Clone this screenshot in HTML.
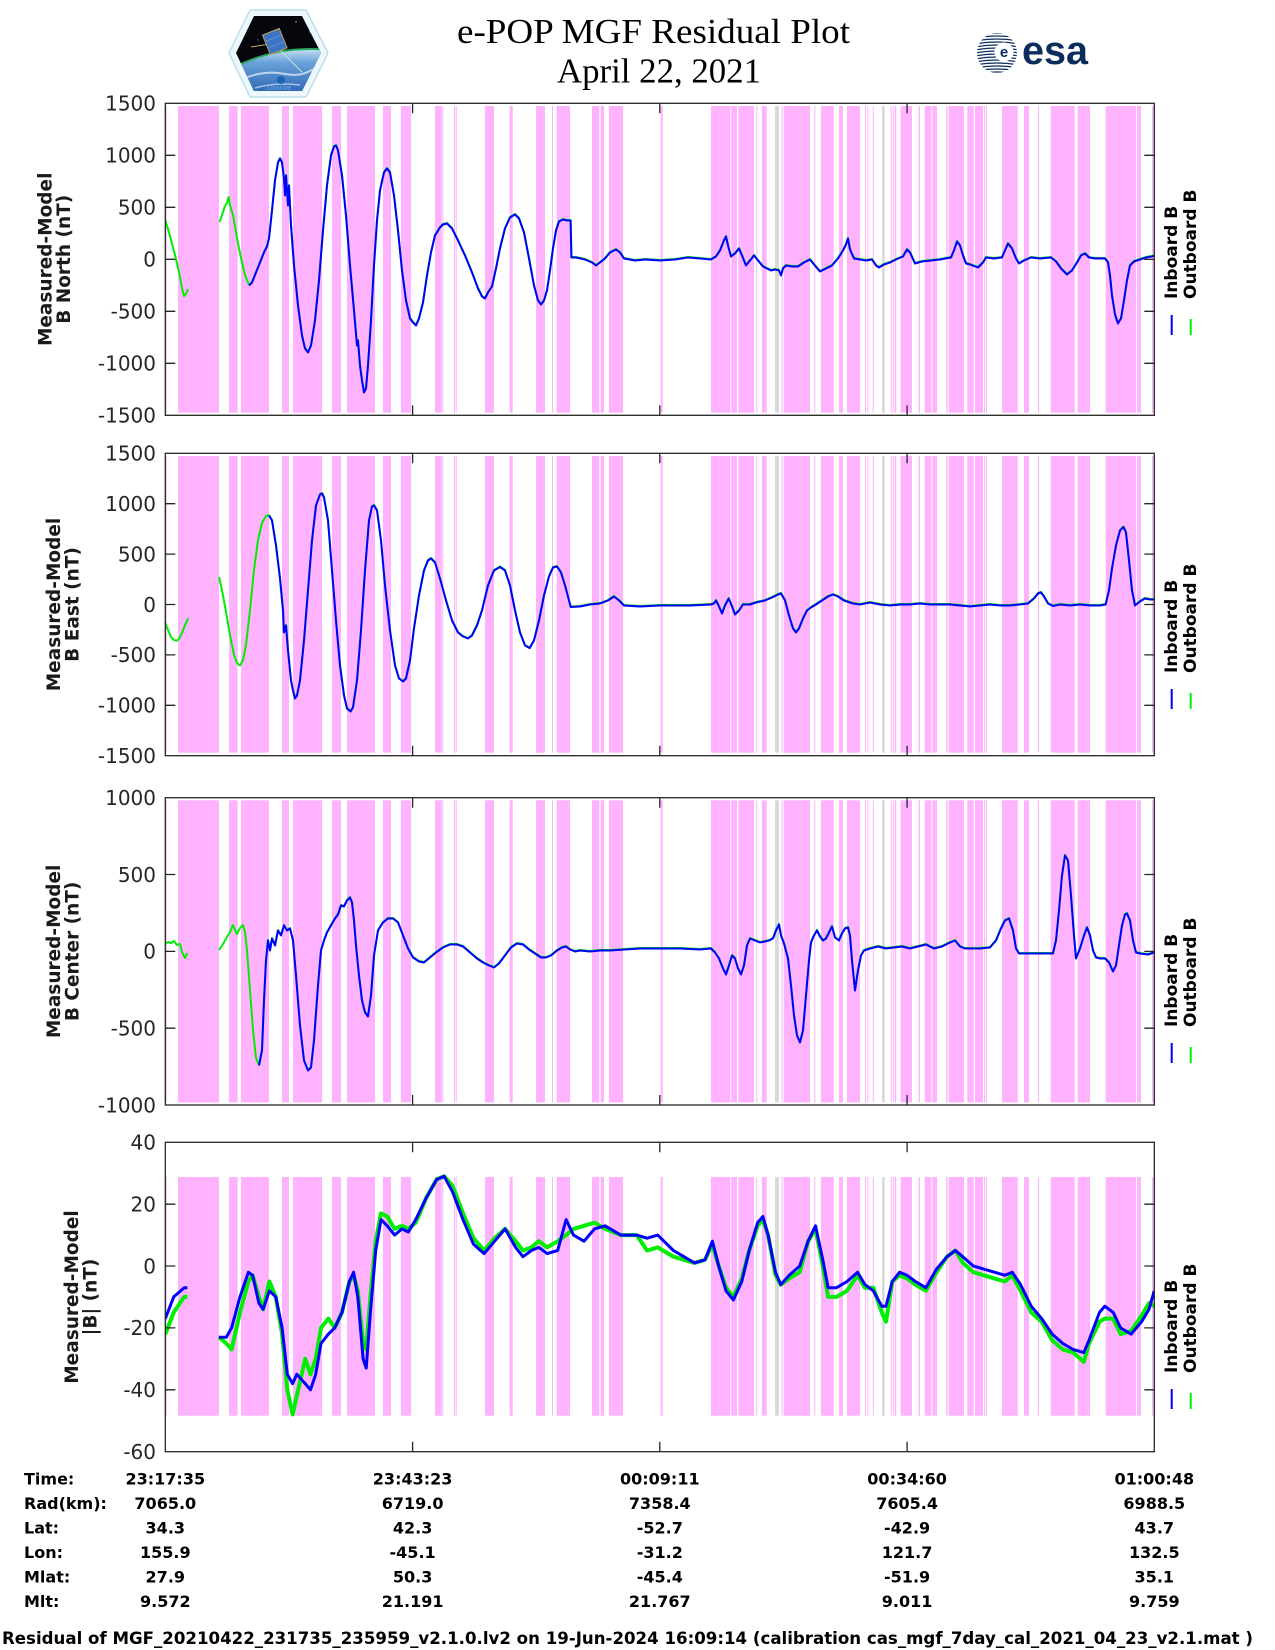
<!DOCTYPE html>
<html><head><meta charset="utf-8"><style>html,body{margin:0;padding:0;background:#fff}svg{display:block}</style></head><body>
<svg width="1275" height="1650" viewBox="0 0 1275 1650" xmlns="http://www.w3.org/2000/svg" xmlns:xlink="http://www.w3.org/1999/xlink">
<defs>
<g id="bars">
<g fill="#ffb3ff">
<rect x="165.3" width="1.4" y="0" height="1"/><rect x="178" width="41" y="0" height="1"/><rect x="229" width="8.7" y="0" height="1"/><rect x="241" width="28" y="0" height="1"/><rect x="282" width="7" y="0" height="1"/><rect x="293" width="29" y="0" height="1"/><rect x="332" width="9" y="0" height="1"/><rect x="347" width="28" y="0" height="1"/><rect x="383" width="8" y="0" height="1"/><rect x="401" width="10" y="0" height="1"/><rect x="435" width="6.7" y="0" height="1"/><rect x="442.3" width="1" y="0" height="1"/><rect x="454" width="1" y="0" height="1"/><rect x="455.7" width="1" y="0" height="1"/><rect x="485" width="9" y="0" height="1"/><rect x="509.7" width="3" y="0" height="1"/><rect x="536" width="9" y="0" height="1"/><rect x="552" width="1" y="0" height="1"/><rect x="556.7" width="13.3" y="0" height="1"/><rect x="592" width="7.3" y="0" height="1"/><rect x="600.7" width="3.3" y="0" height="1"/><rect x="609" width="14" y="0" height="1"/><rect x="660.7" width="2" y="0" height="1"/><rect x="711" width="19.3" y="0" height="1"/><rect x="731.3" width="5.7" y="0" height="1"/><rect x="738.3" width="15.7" y="0" height="1"/><rect x="756.3" width="1" y="0" height="1"/><rect x="762" width="4.7" y="0" height="1"/><rect x="781.7" width="1" y="0" height="1"/><rect x="783.7" width="26.3" y="0" height="1"/><rect x="814.3" width="1" y="0" height="1"/><rect x="821" width="12.7" y="0" height="1"/><rect x="839" width="4" y="0" height="1"/><rect x="847" width="13" y="0" height="1"/><rect x="865" width="1" y="0" height="1"/><rect x="867.3" width="1" y="0" height="1"/><rect x="872.7" width="1" y="0" height="1"/><rect x="890.7" width="1" y="0" height="1"/><rect x="892.7" width="1" y="0" height="1"/><rect x="894.7" width="1.6" y="0" height="1"/><rect x="900.7" width="11.3" y="0" height="1"/><rect x="918.7" width="1.3" y="0" height="1"/><rect x="924.7" width="6.6" y="0" height="1"/><rect x="932.3" width="4.7" y="0" height="1"/><rect x="946.3" width="1.4" y="0" height="1"/><rect x="948.7" width="15.3" y="0" height="1"/><rect x="967.3" width="6.4" y="0" height="1"/><rect x="975" width="8" y="0" height="1"/><rect x="984" width="1" y="0" height="1"/><rect x="986" width="1" y="0" height="1"/><rect x="1002" width="15.7" y="0" height="1"/><rect x="1024" width="5" y="0" height="1"/><rect x="1038" width="1" y="0" height="1"/><rect x="1050.7" width="24" y="0" height="1"/><rect x="1077.7" width="12.3" y="0" height="1"/><rect x="1105.7" width="30.3" y="0" height="1"/><rect x="1137" width="4" y="0" height="1"/><rect x="1152" width="1.3" y="0" height="1"/>
</g>
<g fill="#d9d9d9"><rect x="775" width="4" y="0" height="1"/><rect x="882" width="2.7" y="0" height="1"/></g>
</g>
<polyline id="p1b" points="249,285 252,282 256,272 260,262 264,252 267,246 269,238 272,210 275,180 278,162 280,158 282,162 284,178 285,195 286,175 288,205 289,185 291,225 294,265 298,305 302,335 305,348 308,352 311,345 315,320 319,280 323,230 327,185 331,155 334,146 336,145 338,150 342,175 346,215 350,265 354,310 357,345 358,340 360,365 362,380 364,392 366,388 368,365 371,320 374,265 377,220 380,190 384,172 387,168 390,172 394,195 398,230 402,270 406,300 410,318 413,322 416,325 419,318 423,302 427,275 431,252 435,235 440,227 443,224 447,223 452,228 458,240 465,255 472,272 478,288 482,296 485,298 488,292 492,286 496,268 500,248 505,228 510,217 515,214 519,218 524,232 529,258 534,285 538,300 541,304 544,300 547,290 550,270 553,248 556,230 559,221 563,219 567,220 570.6,220 571.4,257 576,257 585,259 592,262 596,265 600,262 605,258 610,252 616,249 620,252 624,258 635,260 645,259 660,260 675,259 688,257 700,258 711,259 716,256 720,250 724,240 726,236 728,245 731,256 735,253 739,248 742,255 746,265 750,260 754,255 758,260 763,266 767,268 771,270 775,269 779,270 781,275 783,268 786,265 792,266 798,266 804,262 810,259 814,264 820,271 826,268 832,265 838,258 843,250 846,244 848,238 850,249 854,258 860,259 866,260 872,259 876,265 879,267 884,264 890,262 896,259 903,256 907,249 910,252 915,263 922,261 931,260 940,259 951,257 954,250 957,241 960,245 963,255 966,263 970,264 978,267 983,262 986,257 994,258 1002,257 1005,250 1008,243 1012,248 1016,258 1019,263 1024,260 1031,257 1040,258 1051,257 1056,261 1061,268 1067,274 1072,270 1077,262 1081,255 1085,253 1089,257 1095,258 1105,258 1108,262 1110,275 1112,295 1115,314 1118,323 1121,318 1124,300 1127,280 1130,265 1134,261 1140,259 1146,257 1152,256 1154.3,255"/>
<polyline id="p2b" points="269,515 272,520 276,545 280,578 283,610 284,632 286,625 288,650 291,680 293,690 295,698 297,695 300,680 304,640 308,590 312,540 316,505 320,494 322,493 324,497 328,520 332,570 336,620 340,665 344,695 347,708 350.6,711 353,707 357,680 361,630 365,570 369,520 372,506 374,505 377,510 381,540 385,585 390,630 395,665 399,678 403,681 406,678 410,660 414,628 419,595 424,570 428,560 431,558 435,562 440,578 446,600 452,620 458,632 463,636 468,638 472,635 477,625 482,610 488,585 494,570 500,566.5 505,570 510,585 515,610 520,632 525,645 529.7,647.6 534,640 539,620 544,595 549,576 553,567 557,566 561,572 565,585 569,600 570.7,606.5 580,606 590,604 600,603 608,600 614,596 619,600 624,605 640,606 660,605 690,605 711,604 714,603 716,600 719,606 722,613 725,605 728.7,598 732,606 735,614 739,610 743,604 750,604 756,602 765,600 772,597 778,594 781,593 785,600 789,615 793,628 796,632 799,628 803,618 807,610 811,607 816,604 822,600 828,596 833,594 838,596 844,600 853,603 860,604 870,602 880,604 890,605 900,604 910,604 920,603 930,604 940,604 950,604 960,605 970,606 980,605 990,604 1000,605 1010,605 1020,604 1028,603 1034,598 1038,593 1041,592 1044,596 1048,603 1053,605.5 1060,604 1070,605 1080,604 1090,605 1100,605 1105.6,604 1109,590 1112,568 1116,545 1120,530 1123.5,526.5 1126,532 1129,560 1132,590 1135,605 1140,601 1145,598 1150,599 1154.3,599"/>
<polyline id="p3b" points="259,1065 262,1050 264,1000 266,960 268,940 270,950 272,938 275,945 278,930 281,935 284,925 287,930 290,928 293,940 296,975 300,1025 304,1060 308,1070 311,1067 314,1040 318,985 321,950 324,940 327,932 331,925 335,918 338,914 341,905 344,906 347,900 350,897 352,902 354,920 356,945 359,975 362,1000 365,1012 368,1016 371,995 374,955 378,930 383,922 388,918 393,918 398,922 403,935 408,948 413,957 419,961 424,962 430,957 436,952 443,947 450,944 457,944 463,946 470,952 477,958 483,962 489,965 494,967 499,963 505,955 511,947 517,943 523,944 529,949 535,953 541,957 546,957 551,955 557,950 562,947 566,946 570,949 575,951 580,950 590,951 600,950 610,950 625,949 640,948 660,948 680,948 700,949 711,948 715,952 719,958 723,968 726,974 729,965 732,955 735,958 738,968 741,974 744,965 747,945 750,938 755,940 760,942 765,941 769,940 773,938 776,930 779,924 781,935 784,943 788,958 791,985 794,1015 797,1035 800,1042 803,1030 806,995 809,960 811,942 814,935 817,930 820,936 823,940 826,938 829,932 832,926 835,937 839,940 842,933 845,928 848,927 850,935 852,960 855,990 858,970 861,955 864,950 870,948 878,946 886,948 894,947 902,946 910,948 918,946 926,944 934,948 942,946 950,942 955,940 960,946 965,948 972,948 980,948 990,947 996,940 1001,928 1005,920 1009,918 1013,930 1016,948 1019,953 1026,953 1036,953 1046,953 1053,953 1056,940 1059,910 1062,875 1065,855 1068,860 1071,895 1074,935 1076,958 1080,948 1084,935 1087,927 1090,935 1093,950 1096,957 1100,958 1105,958 1109,962 1113,971 1116,965 1119,945 1122,925 1125,914 1127,913 1130,920 1133,940 1136,952 1140,953 1148,954 1154.3,952"/>
<clipPath id="c1"><rect x="165.3" y="103.3" width="989" height="312"/></clipPath>
<clipPath id="c2"><rect x="165.3" y="453.3" width="989" height="302.4"/></clipPath>
<clipPath id="c3"><rect x="165.3" y="797.7" width="989" height="307.3"/></clipPath>
<clipPath id="c4"><rect x="165.3" y="1142.3" width="989" height="309.4"/></clipPath>
<clipPath id="hexc"><polygon points="236,53 254,16 302,16 321,53 302,91 254,91"/></clipPath>
<clipPath id="esac"><circle cx="997" cy="53" r="20"/></clipPath>
<linearGradient id="earthg" gradientUnits="userSpaceOnUse" x1="0" y1="48" x2="0" y2="95">
<stop offset="0" stop-color="#cfe4f4"/><stop offset="0.3" stop-color="#6aa3da"/><stop offset="1" stop-color="#2a62b3"/>
</linearGradient>
</defs>
<rect width="1275" height="1650" fill="#fff"/>

<!-- CASSIOPE logo -->
<polygon points="229,53 250,10 306,10 328,53 306,97 250,97" fill="#eef8fc" stroke="#b8e0ee" stroke-width="1.5"/>
<g clip-path="url(#hexc)">
<rect x="229" y="10" width="100" height="90" fill="#04060b"/>
<circle cx="240" cy="24" r="0.7" fill="#fff"/><circle cx="296" cy="22" r="0.6" fill="#fff"/><circle cx="258" cy="40" r="0.5" fill="#fff"/><circle cx="310" cy="32" r="0.6" fill="#fff"/>
<circle cx="310" cy="215" r="167" fill="#2aa860"/>
<circle cx="310" cy="215" r="165" fill="url(#earthg)"/>
<path d="M245,78 q20,-8 40,-4 t35,-10" stroke="#e8f2fb" stroke-width="2" fill="none" opacity="0.7"/>
<path d="M255,88 q20,-6 45,-3" stroke="#e8f2fb" stroke-width="1.5" fill="none" opacity="0.6"/>
<line x1="251" y1="47" x2="270" y2="44" stroke="#c9a860" stroke-width="1"/>
<line x1="280" y1="50" x2="302" y2="72" stroke="#d0d8e0" stroke-width="1"/>
<g transform="rotate(-22 275 42)"><rect x="266" y="31" width="18" height="21" fill="#3d73c4" stroke="#caa050" stroke-width="1"/><line x1="266" y1="38" x2="284" y2="38" stroke="#6e9bd8" stroke-width="0.6"/><line x1="266" y1="45" x2="284" y2="45" stroke="#6e9bd8" stroke-width="0.6"/></g>
<circle cx="281" cy="80" r="4" fill="#1b66b3"/>
<text x="279" y="90" font-family="DejaVu Sans, sans-serif" font-size="5" fill="#6fb3e6" text-anchor="middle">CASSIOPE</text>
</g>

<!-- ESA logo -->
<g clip-path="url(#esac)" stroke="#0b2d5e" stroke-width="1.2" fill="none">
<path d="M975,35 q22,-4 44,0"/><path d="M975,38 q22,-4 44,0"/><path d="M975,41 q22,-4 44,0"/><path d="M975,44 q22,-4 44,0"/><path d="M975,47 q22,-4 44,0"/><path d="M975,50 q22,-4 44,0"/><path d="M975,53 q22,-4 44,0"/><path d="M975,56 q22,-4 44,0"/><path d="M975,59 q22,-4 44,0"/><path d="M975,62 q22,-4 44,0"/><path d="M975,65 q22,-4 44,0"/><path d="M975,68 q22,-4 44,0"/><path d="M975,71 q22,-4 44,0"/><path d="M975,74 q22,-4 44,0"/>
</g>
<circle cx="1004" cy="52" r="9.5" fill="#fff"/>
<text x="1004" y="57" font-family="Liberation Sans, sans-serif" font-size="15" font-weight="bold" fill="#0b2d5e" text-anchor="middle">e</text>
<text x="1022" y="64" font-family="Liberation Sans, sans-serif" font-weight="bold" font-size="40" fill="#0b2d5e" textLength="66" lengthAdjust="spacingAndGlyphs">esa</text>

<!-- Title -->
<g font-family="Liberation Serif, serif" fill="#000" font-size="35">
<text x="457" y="43" textLength="393" lengthAdjust="spacingAndGlyphs">e-POP MGF Residual Plot</text>
<text x="557" y="82.5" textLength="204" lengthAdjust="spacingAndGlyphs">April 22, 2021</text>
</g>

<!-- Bars -->
<use xlink:href="#bars" href="#bars" transform="translate(0,106) scale(1,306.7)"/>
<use xlink:href="#bars" href="#bars" transform="translate(0,456) scale(1,296.7)"/>
<use xlink:href="#bars" href="#bars" transform="translate(0,800.3) scale(1,302.2)"/>
<use xlink:href="#bars" href="#bars" transform="translate(0,1177) scale(1,238.7)"/>

<!-- Panel 1 curves -->
<g clip-path="url(#c1)" fill="none" stroke-linejoin="round" stroke-width="2">
<polyline stroke="#00ee00" points="165.3,220 170,236 175,255 179,272 182,288 184,296 186,294 188,289"/>
<polyline stroke="#00ee00" points="219.6,222 222,215 225,206 227,203 228.6,197 230,205 233,215 237,238 241,258 245,275 249,285"/>
<use xlink:href="#p1b" href="#p1b" stroke="#00ee00" fill="none"/>
<use xlink:href="#p1b" href="#p1b" stroke="#0000ff" fill="none" transform="translate(0,0.5)"/>
</g>

<!-- Panel 2 curves -->
<g clip-path="url(#c2)" fill="none" stroke-linejoin="round" stroke-width="2">
<polyline stroke="#00ee00" points="165.3,622.7 168,630 171,637 174,640 176.7,640.7 179,639 182,633 185,625 188.3,618.3"/>
<polyline stroke="#00ee00" points="219,577 222,590 226,612 230,635 234,655 237,663 240,665.5 243,660 246,645 250,610 254,570 258,540 262,523 266,516 269,515"/>
<use xlink:href="#p2b" href="#p2b" stroke="#00ee00" fill="none"/>
<use xlink:href="#p2b" href="#p2b" stroke="#0000ff" fill="none" transform="translate(0,0.5)"/>
</g>

<!-- Panel 3 curves -->
<g clip-path="url(#c3)" fill="none" stroke-linejoin="round" stroke-width="2">
<polyline stroke="#00ee00" points="165.3,944 168,942 171,943 174,941 177,945 180,944 182,952 185,958 187.4,953"/>
<polyline stroke="#00ee00" points="219,950 223,944 227,937 230,932 233,925 235,930 237,934 240,928 243,925 245,932 247,950 250,990 253,1030 256,1058 259,1065"/>
<use xlink:href="#p3b" href="#p3b" stroke="#00ee00" fill="none"/>
<use xlink:href="#p3b" href="#p3b" stroke="#0000ff" fill="none" transform="translate(0,0.5)"/>
</g>

<!-- Panel 4 curves -->
<g clip-path="url(#c4)" fill="none" stroke-linejoin="round">
<g stroke="#00ee00" stroke-width="4">
<polyline points="165.3,1334.1 173.7,1312.4 184.2,1296.9 187.4,1296.9"/>
<polyline points="218.9,1337.2 226.3,1343.4 231.6,1349.5 240,1312.4 248.4,1281.5 252.6,1275.3 258.9,1296.9 263.1,1309.3 269.4,1281.5 275.8,1296.9 282.1,1334.1 287.3,1389.8 292.6,1414.5 296.8,1396 305.2,1358.8 310.5,1374.3 315.7,1358.8 321,1327.9 328.4,1318.6 334.7,1327.9 342,1312.4 349.4,1281.5 353.6,1275.3 357.8,1290.8 363.1,1343.4 366.2,1349.5 370.4,1296.9 375.7,1241.2 381,1213.4 387.3,1216.5 394.6,1228.9 402,1225.8 408.3,1228.9 415.7,1222.7 426.2,1197.9 436.7,1179.4 444.1,1176.3 452.5,1185.6 463,1213.4 473.5,1238.2 484.1,1250.5 494.6,1238.2 505.1,1228.9 515.6,1241.2 523,1250.5 531.4,1247.4 538.8,1241.2 547.2,1247.4 557.7,1241.2 566.1,1235.1 573.5,1228.9 584,1225.8 594.5,1222.7 605.1,1228.9 620.8,1235.1 636.6,1235.1 647.1,1250.5 657.7,1247.4 673.4,1256.7 684,1259.8 694.5,1262.9 705,1259.8 712.4,1244.3 718.7,1266 726,1287.7 733.4,1296.9 741.8,1278.4 749.2,1250.5 757.6,1225.8 762.9,1219.6 768.1,1235.1 775.5,1275.3 780.8,1284.6 789.2,1278.4 799.7,1272.2 808.1,1241.2 815.5,1228.9 822.8,1266 828.1,1296.9 836.5,1296.9 847,1290.8 857.6,1275.3 864.9,1287.7 873.3,1287.7 881.8,1312.4 886,1321.7 892.3,1281.5 899.6,1275.3 907,1278.4 915.4,1284.6 925.9,1290.8 936.5,1272.2 947,1256.7 955.4,1250.5 962.8,1262.9 973.3,1272.2 983.8,1275.3 994.3,1278.4 1004.9,1281.5 1012.2,1275.3 1020.6,1290.8 1031.2,1312.4 1041.7,1321.7 1052.2,1340.3 1062.7,1349.5 1073.2,1352.6 1083.8,1361.9 1089,1343.4 1099.5,1321.7 1104.8,1318.6 1113.2,1318.6 1120.6,1334.1 1131.1,1331 1141.6,1315.5 1149,1303.1 1154.3,1306.2"/>
</g>
<g stroke="#0000ff" stroke-width="3">
<polyline points="165.3,1318.6 173.7,1296.9 184.2,1287.7 187.4,1287.7"/>
<polyline points="218.9,1337.2 226.3,1337.2 231.6,1327.9 240,1296.9 248.4,1272.2 252.6,1275.3 258.9,1303.1 263.1,1309.3 269.4,1290.8 275.8,1296.9 282.1,1327.9 287.3,1374.3 292.6,1383.6 296.8,1374.3 305.2,1383.6 310.5,1389.8 315.7,1374.3 321,1343.4 328.4,1334.1 334.7,1327.9 342,1312.4 349.4,1281.5 353.6,1272.2 357.8,1296.9 363.1,1358.8 366.2,1368.1 370.4,1312.4 375.7,1250.5 381,1219.6 387.3,1225.8 394.6,1235.1 402,1228.9 408.3,1232 415.7,1219.6 426.2,1197.9 436.7,1179.4 444.1,1176.3 452.5,1191.7 463,1219.6 473.5,1244.3 484.1,1253.6 494.6,1241.2 505.1,1228.9 515.6,1247.4 523,1256.7 531.4,1250.5 538.8,1247.4 547.2,1253.6 557.7,1250.5 566.1,1219.6 573.5,1235.1 584,1241.2 594.5,1228.9 605.1,1225.8 620.8,1235.1 636.6,1235.1 647.1,1238.2 657.7,1235.1 673.4,1250.5 684,1256.7 694.5,1262.9 705,1259.8 712.4,1241.2 718.7,1266 726,1290.8 733.4,1300 741.8,1281.5 749.2,1250.5 757.6,1222.7 762.9,1216.5 768.1,1235.1 775.5,1272.2 780.8,1284.6 789.2,1275.3 799.7,1266 808.1,1241.2 815.5,1225.8 822.8,1259.8 828.1,1287.7 836.5,1287.7 847,1281.5 857.6,1272.2 864.9,1284.6 873.3,1290.8 881.8,1306.2 886,1306.2 892.3,1281.5 899.6,1272.2 907,1275.3 915.4,1281.5 925.9,1287.7 936.5,1269.1 947,1256.7 955.4,1250.5 962.8,1256.7 973.3,1266 983.8,1269.1 994.3,1272.2 1004.9,1275.3 1012.2,1272.2 1020.6,1284.6 1031.2,1306.2 1041.7,1318.6 1052.2,1334.1 1062.7,1343.4 1073.2,1349.5 1083.8,1352.6 1089,1340.3 1099.5,1312.4 1104.8,1306.2 1113.2,1312.4 1120.6,1327.9 1131.1,1334.1 1141.6,1321.7 1149,1309.3 1154.3,1290.8"/>
</g>
</g>

<!-- Axes frames & ticks -->
<g fill="none" stroke="#262626" stroke-width="1.3">
<rect x="165.3" y="103.3" width="989" height="312"/>
<rect x="165.3" y="453.3" width="989" height="302.4"/>
<rect x="165.3" y="797.7" width="989" height="307.3"/>
<rect x="165.3" y="1142.3" width="989" height="309.4"/>
<path d="M165.3,155.3h10M165.3,207.3h10M165.3,259.3h10M165.3,311.3h10M165.3,363.3h10M1154.3,155.3h-10M1154.3,207.3h-10M1154.3,259.3h-10M1154.3,311.3h-10M1154.3,363.3h-10M412.6,103.3v10M659.8,103.3v10M907.1,103.3v10M412.6,415.3v-10M659.8,415.3v-10M907.1,415.3v-10"/>
<path d="M165.3,503.7h10M165.3,554.1h10M165.3,604.5h10M165.3,654.9h10M165.3,705.3h10M1154.3,503.7h-10M1154.3,554.1h-10M1154.3,604.5h-10M1154.3,654.9h-10M1154.3,705.3h-10M412.6,453.3v10M659.8,453.3v10M907.1,453.3v10M412.6,755.7v-10M659.8,755.7v-10M907.1,755.7v-10"/>
<path d="M165.3,874.5h10M165.3,951.4h10M165.3,1028.2h10M1154.3,874.5h-10M1154.3,951.4h-10M1154.3,1028.2h-10M412.6,797.7v10M659.8,797.7v10M907.1,797.7v10M412.6,1105v-10M659.8,1105v-10M907.1,1105v-10"/>
<path d="M165.3,1204.2h10M165.3,1266h10M165.3,1327.9h10M165.3,1389.8h10M1154.3,1204.2h-10M1154.3,1266h-10M1154.3,1327.9h-10M1154.3,1389.8h-10M412.6,1142.3v10M659.8,1142.3v10M907.1,1142.3v10M412.6,1451.7v-10M659.8,1451.7v-10M907.1,1451.7v-10"/>
</g>

<!-- Tick labels -->
<g font-family="DejaVu Sans, sans-serif" font-size="20" fill="#262626" text-anchor="end">
<text x="156" y="110.6">1500</text><text x="156" y="162.6">1000</text><text x="156" y="214.6">500</text><text x="156" y="266.6">0</text><text x="156" y="318.6">-500</text><text x="156" y="370.6">-1000</text><text x="156" y="422.6">-1500</text>
<text x="156" y="460.6">1500</text><text x="156" y="511">1000</text><text x="156" y="561.4">500</text><text x="156" y="611.8">0</text><text x="156" y="662.2">-500</text><text x="156" y="712.6">-1000</text><text x="156" y="763">-1500</text>
<text x="156" y="805">1000</text><text x="156" y="881.8">500</text><text x="156" y="958.7">0</text><text x="156" y="1035.5">-500</text><text x="156" y="1112.3">-1000</text>
<text x="156" y="1149.6">40</text><text x="156" y="1211.5">20</text><text x="156" y="1273.3">0</text><text x="156" y="1335.2">-20</text><text x="156" y="1397.1">-40</text><text x="156" y="1459">-60</text>
</g>

<!-- Y labels -->
<g font-family="DejaVu Sans, sans-serif" font-size="18.5" font-weight="bold" fill="#1a1a1a" text-anchor="middle">
<text transform="translate(51.7,259.3) rotate(-90)">Measured-Model</text>
<text transform="translate(70,259.3) rotate(-90)">B North (nT)</text>
<text transform="translate(60,604.5) rotate(-90)">Measured-Model</text>
<text transform="translate(78.5,604.5) rotate(-90)">B East (nT)</text>
<text transform="translate(60,951.4) rotate(-90)">Measured-Model</text>
<text transform="translate(78.5,951.4) rotate(-90)">B Center (nT)</text>
<text transform="translate(78,1297) rotate(-90)">Measured-Model</text>
<text transform="translate(96.5,1297) rotate(-90)">|B| (nT)</text>
</g>

<!-- Legends -->
<g font-family="DejaVu Sans, sans-serif" font-size="17" font-weight="bold" fill="#000">
<text transform="translate(1177,299) rotate(-90)">Inboard B</text><text transform="translate(1196,299) rotate(-90)">Outboard B</text>
<text transform="translate(1177,673) rotate(-90)">Inboard B</text><text transform="translate(1196,673) rotate(-90)">Outboard B</text>
<text transform="translate(1177,1027) rotate(-90)">Inboard B</text><text transform="translate(1196,1027) rotate(-90)">Outboard B</text>
<text transform="translate(1177,1373) rotate(-90)">Inboard B</text><text transform="translate(1196,1373) rotate(-90)">Outboard B</text>
</g>
<g stroke-width="2">
<path stroke="#0000ff" d="M1171.7,315v20M1171.7,689v20M1171.7,1043v20M1171.7,1389v20"/>
<path stroke="#00ee00" d="M1190.7,319v16M1190.7,693v16M1190.7,1047v16M1190.7,1393v16"/>
</g>

<!-- Info table -->
<g font-family="DejaVu Sans, sans-serif" font-size="16" font-weight="bold" fill="#000">
<text x="24" y="1484.3">Time:</text><text x="24" y="1508.8">Rad(km):</text><text x="24" y="1533.3">Lat:</text><text x="24" y="1557.8">Lon:</text><text x="24" y="1582.3">Mlat:</text><text x="24" y="1606.8">Mlt:</text>
<g text-anchor="middle">
<text x="165.3" y="1484.3">23:17:35</text><text x="412.6" y="1484.3">23:43:23</text><text x="659.8" y="1484.3">00:09:11</text><text x="907.1" y="1484.3">00:34:60</text><text x="1154.3" y="1484.3">01:00:48</text>
<text x="165.3" y="1508.8">7065.0</text><text x="412.6" y="1508.8">6719.0</text><text x="659.8" y="1508.8">7358.4</text><text x="907.1" y="1508.8">7605.4</text><text x="1154.3" y="1508.8">6988.5</text>
<text x="165.3" y="1533.3">34.3</text><text x="412.6" y="1533.3">42.3</text><text x="659.8" y="1533.3">-52.7</text><text x="907.1" y="1533.3">-42.9</text><text x="1154.3" y="1533.3">43.7</text>
<text x="165.3" y="1557.8">155.9</text><text x="412.6" y="1557.8">-45.1</text><text x="659.8" y="1557.8">-31.2</text><text x="907.1" y="1557.8">121.7</text><text x="1154.3" y="1557.8">132.5</text>
<text x="165.3" y="1582.3">27.9</text><text x="412.6" y="1582.3">50.3</text><text x="659.8" y="1582.3">-45.4</text><text x="907.1" y="1582.3">-51.9</text><text x="1154.3" y="1582.3">35.1</text>
<text x="165.3" y="1606.8">9.572</text><text x="412.6" y="1606.8">21.191</text><text x="659.8" y="1606.8">21.767</text><text x="907.1" y="1606.8">9.011</text><text x="1154.3" y="1606.8">9.759</text>
</g>
</g>

<!-- Footer -->
<text x="2" y="1644" font-family="DejaVu Sans, sans-serif" font-size="17" font-weight="bold" fill="#000" textLength="1251" lengthAdjust="spacingAndGlyphs">Residual of MGF_20210422_231735_235959_v2.1.0.lv2 on 19-Jun-2024 16:09:14 (calibration cas_mgf_7day_cal_2021_04_23_v2.1.mat )</text>
</svg>
</body></html>
